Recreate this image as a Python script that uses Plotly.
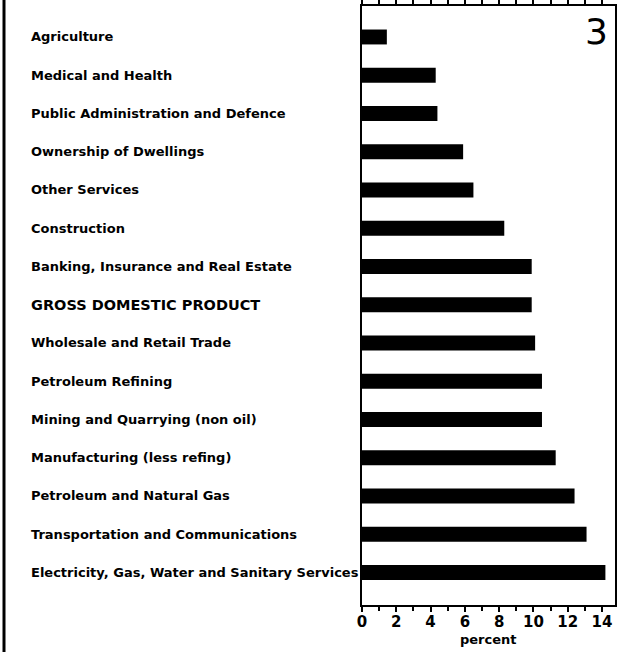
import plotly.graph_objects as go

categories = [
    "Agriculture",
    "Medical and Health",
    "Public Administration and Defence",
    "Ownership of Dwellings",
    "Other Services",
    "Construction",
    "Banking, Insurance and Real Estate",
    "GROSS DOMESTIC PRODUCT",
    "Wholesale and Retail Trade",
    "Petroleum Refining",
    "Mining and Quarrying (non oil)",
    "Manufacturing (less refing)",
    "Petroleum and Natural Gas",
    "Transportation and Communications",
    "Electricity, Gas, Water and Sanitary Services",
]
values = [1.45, 4.3, 4.4, 5.9, 6.5, 8.3, 9.9, 9.9, 10.1, 10.5, 10.5, 11.3, 12.4, 13.1, 14.2]
tick_vals = [0, 2, 4, 6, 8, 10, 12, 14]
tick_text = ["0", "2", "4", "6", "8", "10", "12", "14"]
panel_label = "3"
x_title = "percent"

FONT = "DejaVu Sans"

fig = go.Figure(
    go.Bar(
        x=values,
        y=categories,
        orientation="h",
        marker=dict(color="black", line=dict(width=0)),
        width=0.39,
    )
)

annotations = []
for c in categories:
    size = 14.5 if c.isupper() else 13
    annotations.append(
        dict(
            x=-1.316, xref="paper", y=c, yref="y",
            text="<b>%s</b>" % c, showarrow=False,
            xanchor="left", yanchor="middle",
            font=dict(family=FONT, size=size, color="black"),
        )
    )
annotations.append(
    dict(
        x=0.925, xref="paper", y=0.957, yref="paper",
        text=panel_label, showarrow=False, xanchor="center", yanchor="middle",
        font=dict(family=FONT, size=36, color="black"),
    )
)
annotations.append(
    dict(
        x=0.5, xref="paper", y=-0.057, yref="paper",
        text="<b>%s</b>" % x_title, showarrow=False, xanchor="center", yanchor="middle",
        font=dict(family=FONT, size=13, color="black"),
    )
)

fig.update_layout(
    width=626, height=652,
    margin=dict(l=362, r=11, t=6, b=47, autoexpand=False),
    paper_bgcolor="white", plot_bgcolor="white",
    showlegend=False,
    annotations=annotations,
    xaxis=dict(
        range=[0, 14.76],
        tickmode="array", tickvals=tick_vals, ticktext=["<b>%s</b>" % t for t in tick_text],
        ticks="outside", ticklen=5, tickwidth=2, tickcolor="black",
        minor=dict(dtick=1, ticks="outside", ticklen=4, tickwidth=2, tickcolor="black"),
        showline=True, linecolor="black", linewidth=2, mirror="allticks",
        showgrid=False, zeroline=False, automargin=False,
        ticklabelstandoff=-3,
        tickfont=dict(family=FONT, size=15, color="black"),
    ),
    yaxis=dict(
        categoryorder="array", categoryarray=categories,
        range=[14.85, -0.81],
        showticklabels=False, ticks="",
        showline=True, linecolor="black", linewidth=2, mirror=True,
        showgrid=False, zeroline=False, automargin=False,
    ),
    shapes=[
        dict(type="line", xref="paper", yref="paper",
             x0=-1.415, x1=-1.415, y0=-0.1, y1=1.02,
             line=dict(color="black", width=3)),
    ],
)

fig.write_html("out.html", config={"displayModeBar": False},
               post_script="document.body.style.margin='0';")
